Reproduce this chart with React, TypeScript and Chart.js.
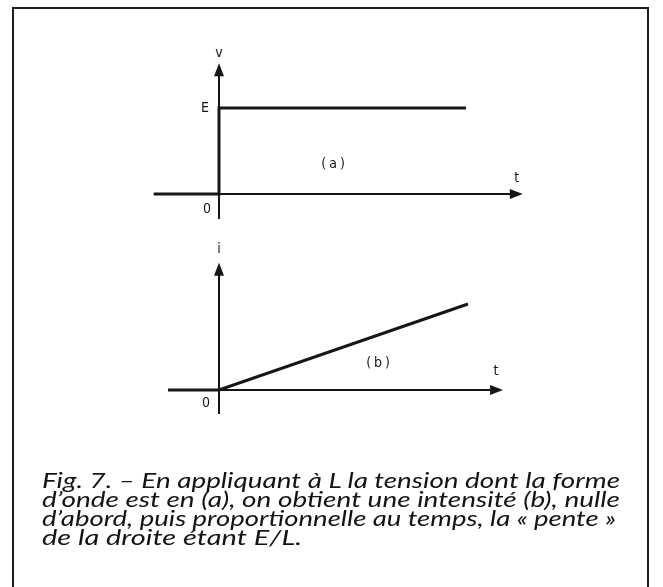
import React, { useEffect, useRef } from "react";
import { Chart, registerables } from "chart.js";

Chart.register(...registerables);

// (a) applied voltage: zero, then a step of height E at t = 0
const timeA = [-1.32, 0, 0, 5];
const voltageA = [0, 0, 1, 1];

// (b) resulting current: zero, then a ramp of slope E/L
const timeB = [-1.03, 0, 5.04];
const currentB = [0, 0, 1];

const panelTags = ["(a)", "(b)"];
const yAxisNames = ["v", "i"];
const xAxisName = "t";
const levelLabel = "E";
const originLabel = "0";

const captionLines = [
  "Fig. 7. \u2013 En appliquant \u00e0 L la tension dont la forme",
  "d\u2019onde est en (a), on obtient une intensit\u00e9 (b), nulle",
  "d\u2019abord, puis proportionnelle au temps, la \u00ab pente \u00bb",
  "de la droite \u00e9tant E/L.",
];

// drawing geometry (pixels)
const PX_PER_T = 49.4;
const PX_PER_UNIT = 86;
const ORIGIN_X = 219;
const CANVAS_LEFT = 140;
const CANVAS_W = 400;
const CANVAS_H = 190;

type Panel = {
  top: number;
  originY: number;
  xStart: number;
  xTip: number;
  yTip: number;
  yBottom: number;
  tagAt: [number, number];
  nameDy: number;
  tDx: number;
  tDy: number;
  zeroDx: number;
  zeroDy: number;
  showLevel: boolean;
};

const panels: Panel[] = [
  { top: 40, originY: 194, xStart: -1.32, xTip: 6.15, yTip: 1.52, yBottom: -0.29, tagAt: [2.31, 0.35], nameDy: -10, tDx: -6, tDy: -16, zeroDx: -12, zeroDy: 15, showLevel: true },
  { top: 240, originY: 390, xStart: -1.03, xTip: 5.75, yTip: 1.48, yBottom: -0.28, tagAt: [3.22, 0.31], nameDy: -13, tDx: -7, tDy: -19, zeroDx: -13, zeroDy: 13, showLevel: false },
];

const INK = "#161616";
const LABEL_FONT = "14px 'DejaVu Sans Condensed', 'Liberation Sans Narrow', sans-serif";

function axesPlugin(index: number) {
  const p = panels[index];
  return {
    id: "arrowAxes" + index,
    beforeDatasetsDraw(chart: any) {
      const ctx = chart.ctx as CanvasRenderingContext2D;
      const xs = chart.scales.x;
      const ys = chart.scales.y;
      const x0 = xs.getPixelForValue(0);
      const y0 = ys.getPixelForValue(0);
      const xl = xs.getPixelForValue(p.xStart);
      const xt = xs.getPixelForValue(p.xTip);
      const yt = ys.getPixelForValue(p.yTip);
      const yb = ys.getPixelForValue(p.yBottom);
      ctx.save();
      ctx.strokeStyle = INK;
      ctx.fillStyle = INK;
      ctx.lineWidth = 2;
      ctx.beginPath();
      ctx.moveTo(xl, y0);
      ctx.lineTo(xt - 10, y0);
      ctx.moveTo(x0, yb);
      ctx.lineTo(x0, yt + 10);
      ctx.stroke();
      // arrow heads
      ctx.beginPath();
      ctx.moveTo(xt, y0);
      ctx.lineTo(xt - 13, y0 - 5);
      ctx.lineTo(xt - 13, y0 + 5);
      ctx.closePath();
      ctx.fill();
      ctx.beginPath();
      ctx.moveTo(x0, yt);
      ctx.lineTo(x0 - 5, yt + 13);
      ctx.lineTo(x0 + 5, yt + 13);
      ctx.closePath();
      ctx.fill();
      ctx.restore();
    },
    afterDraw(chart: any) {
      const ctx = chart.ctx as CanvasRenderingContext2D;
      const xs = chart.scales.x;
      const ys = chart.scales.y;
      const x0 = xs.getPixelForValue(0);
      const y0 = ys.getPixelForValue(0);
      const xt = xs.getPixelForValue(p.xTip);
      const yt = ys.getPixelForValue(p.yTip);
      ctx.save();
      ctx.fillStyle = INK;
      ctx.font = LABEL_FONT;
      ctx.textAlign = "center";
      ctx.textBaseline = "middle";
      ctx.fillText(yAxisNames[index], x0, yt + p.nameDy);
      ctx.fillText(xAxisName, xt + p.tDx, y0 + p.tDy);
      ctx.fillText(originLabel, x0 + p.zeroDx, y0 + p.zeroDy);
      if (p.showLevel) {
        ctx.fillText(levelLabel, x0 - 14, ys.getPixelForValue(voltageA[3]));
      }
      (ctx as any).letterSpacing = "3px";
      ctx.fillText(
        panelTags[index],
        xs.getPixelForValue(p.tagAt[0]) + 1.5,
        ys.getPixelForValue(p.tagAt[1])
      );
      ctx.restore();
    },
  };
}

function WaveChart({ index }: { index: number }) {
  const ref = useRef<HTMLCanvasElement>(null);
  useEffect(() => {
    const p = panels[index];
    const times = index === 0 ? timeA : timeB;
    const values = index === 0 ? voltageA : currentB;
    const chart = new Chart(ref.current!, {
      type: "scatter",
      data: {
        datasets: [
          {
            data: times.map((t, i) => ({ x: t, y: values[i] })),
            showLine: true,
            borderColor: INK,
            borderWidth: 3,
            pointRadius: 0,
            tension: 0,
            borderCapStyle: "butt",
            borderJoinStyle: "miter",
          },
        ],
      },
      options: {
        responsive: false,
        animation: false,
        devicePixelRatio: 1,
        layout: { padding: 0 },
        plugins: { legend: { display: false }, tooltip: { enabled: false } },
        events: [],
        scales: {
          x: {
            type: "linear",
            display: false,
            min: (CANVAS_LEFT - ORIGIN_X) / PX_PER_T,
            max: (CANVAS_LEFT + CANVAS_W - ORIGIN_X) / PX_PER_T,
          },
          y: {
            type: "linear",
            display: false,
            min: (p.originY - (p.top + CANVAS_H)) / PX_PER_UNIT,
            max: (p.originY - p.top) / PX_PER_UNIT,
          },
        },
      },
      plugins: [axesPlugin(index)],
    } as any);
    return () => chart.destroy();
  }, [index]);
  const p = panels[index];
  return (
    <canvas
      ref={ref}
      width={CANVAS_W}
      height={CANVAS_H}
      style={{ position: "absolute", left: CANVAS_LEFT, top: p.top, width: CANVAS_W, height: CANVAS_H }}
    />
  );
}

const captionBaselines = [488, 507, 526, 545];
const captionWidths = [578, 578, 574, 260];

export default function App() {
  return (
    <div
      style={{
        position: "fixed",
        left: 0,
        top: 0,
        width: 663,
        height: 587,
        background: "#fff",
        overflow: "hidden",
      }}
    >
      <div
        style={{
          position: "absolute",
          left: 12,
          top: 7,
          width: 637,
          height: 620,
          border: "2px solid #1e1e1e",
          boxSizing: "border-box",
        }}
      />
      <WaveChart index={0} />
      <WaveChart index={1} />
      <svg
        width={663}
        height={587}
        style={{ position: "absolute", left: 0, top: 0 }}
      >
        {captionLines.map((line, i) => (
          <text
            key={i}
            x={42}
            y={captionBaselines[i]}
            textLength={captionWidths[i]}
            lengthAdjust="spacingAndGlyphs"
            fill="#141414"
            style={{
              fontFamily: "Lato, 'Open Sans', sans-serif",
              fontStyle: "italic",
              fontSize: 21,
            }}
          >
            {line}
          </text>
        ))}
      </svg>
    </div>
  );
}
